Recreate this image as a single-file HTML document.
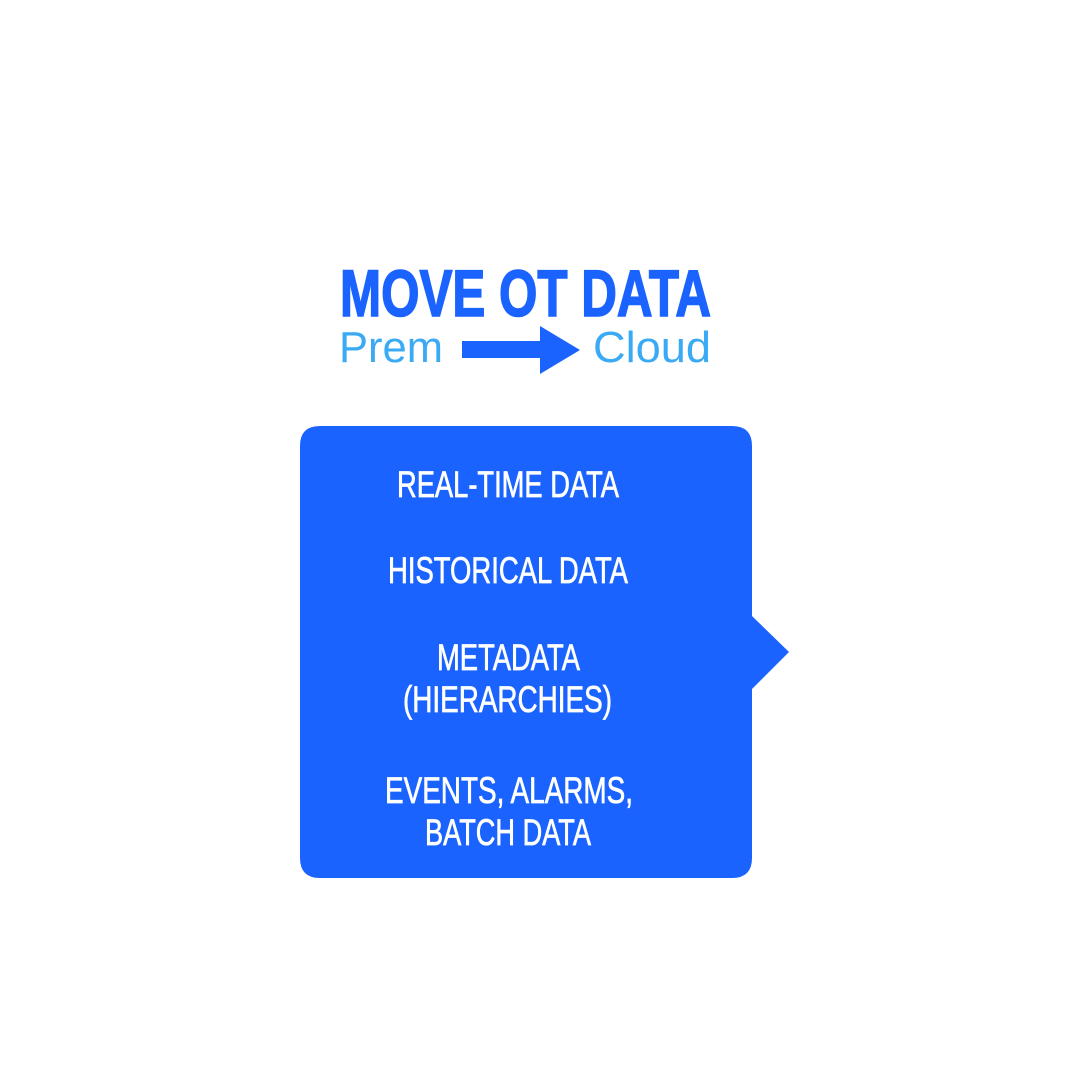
<!DOCTYPE html>
<html><head><meta charset="utf-8"><style>html,body{margin:0;padding:0;background:#fff}</style></head>
<body>
<svg width="1080" height="1080" viewBox="0 0 1080 1080" xmlns="http://www.w3.org/2000/svg">
<rect width="1080" height="1080" fill="#fff"/>
<text x="340" y="316" font-family="Liberation Sans" font-weight="bold" font-size="66" fill="#1a63ff" stroke="#1a63ff" stroke-width="1.6" textLength="371" lengthAdjust="spacingAndGlyphs">MOVE OT DATA</text>
<text x="339" y="362" font-family="Liberation Sans" font-size="44" fill="#3aaaf5" textLength="104" lengthAdjust="spacingAndGlyphs">Prem</text>
<text x="593" y="362" font-family="Liberation Sans" font-size="44" fill="#3aaaf5" textLength="118" lengthAdjust="spacingAndGlyphs">Cloud</text>
<polygon points="462,341 540,341 540,326 580,350 540,374 540,358 462,358" fill="#1a63ff"/>
<path d="M320,426 H732 Q752,426 752,446 V616 L789,652 L752,689 V858 Q752,878 732,878 H320 Q300,878 300,858 V446 Q300,426 320,426 Z" fill="#1a63ff"/>
<g font-family="Liberation Sans" font-size="37" fill="#fff" stroke="#fff" stroke-width="0.7">
<text x="397" y="497" textLength="222" lengthAdjust="spacingAndGlyphs">REAL-TIME DATA</text>
<text x="388" y="583" textLength="240" lengthAdjust="spacingAndGlyphs">HISTORICAL DATA</text>
<text x="437" y="670" textLength="143" lengthAdjust="spacingAndGlyphs">METADATA</text>
<text x="403" y="712" textLength="209" lengthAdjust="spacingAndGlyphs">(HIERARCHIES)</text>
<text x="385" y="803" textLength="248" lengthAdjust="spacingAndGlyphs">EVENTS, ALARMS,</text>
<text x="425" y="845" textLength="166" lengthAdjust="spacingAndGlyphs">BATCH DATA</text>
</g>
</svg>
</body></html>
